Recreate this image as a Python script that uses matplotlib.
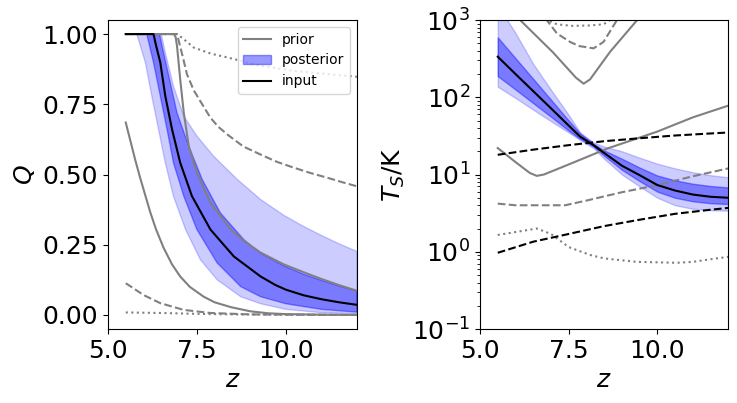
import numpy as np
import matplotlib
matplotlib.use('Agg')
import matplotlib.pyplot as plt

# ---- left panel: Q(z) ----
# posterior bands (edges read separately)
z_q_ohi = [5.5, 6.5, 6.6, 6.84, 7.13, 7.5, 7.97, 8.64, 9.29, 9.94, 10.5, 11.0, 11.5, 12.0]
q_ohi = [1, 1, 0.94, 0.815, 0.708, 0.637, 0.565, 0.482, 0.411, 0.355, 0.315, 0.283, 0.253, 0.226]
z_q_olo = [5.5, 5.81, 6.05, 6.23, 6.42, 6.61, 6.84, 7.18, 7.6, 8.07, 8.73, 9.29, 10.0, 11.0, 12.0]
q_olo = [1, 1, 0.899, 0.78, 0.661, 0.542, 0.423, 0.304, 0.196, 0.125, 0.065, 0.04, 0.02, 0.008, 0.004]
z_q_ihi = [5.5, 6.45, 6.52, 6.73, 6.94, 7.27, 7.65, 8.16, 8.82, 9.29, 9.94, 10.5, 11.0, 11.5, 12.0]
q_ihi = [1, 1, 0.958, 0.839, 0.72, 0.601, 0.482, 0.363, 0.268, 0.22, 0.175, 0.145, 0.123, 0.103, 0.085]
z_q_ilo = [5.5, 6.09, 6.28, 6.47, 6.66, 6.84, 7.13, 7.5, 8.07, 8.73, 9.29, 10.0, 11.0, 12.0]
q_ilo = [1, 1, 0.899, 0.78, 0.661, 0.542, 0.423, 0.304, 0.185, 0.101, 0.065, 0.04, 0.02, 0.01]

z_q_in = [5.5, 6.28, 6.35, 6.47, 6.61, 6.8, 7.03, 7.36, 7.88, 8.54, 9.29, 9.7, 10.0, 10.5, 11.0, 11.5, 12.0]
q_in = [1, 1, 0.96, 0.899, 0.78, 0.661, 0.542, 0.423, 0.304, 0.208, 0.137, 0.107, 0.09, 0.07, 0.056, 0.045, 0.036]

z_q_p1 = [5.5, 5.62, 5.76, 5.9, 6.0, 6.19, 6.35, 6.56, 6.8, 7.03, 7.3, 7.69, 8.0, 8.45, 9.0, 9.5, 10.0, 11.0, 12.0]
q_p1 = [0.685, 0.625, 0.555, 0.49, 0.447, 0.365, 0.305, 0.24, 0.18, 0.137, 0.1, 0.065, 0.045, 0.028, 0.013, 0.006, 0.003, 0.001, 0.0]
z_q_p2 = [5.5, 6.85, 6.9, 6.94, 7.03, 7.13, 7.27, 7.5, 7.88, 8.45, 8.85, 9.29, 9.94, 10.5, 11.0, 11.5, 12.0]
q_p2 = [1, 1, 0.99, 0.958, 0.839, 0.72, 0.601, 0.506, 0.399, 0.304, 0.26, 0.222, 0.18, 0.152, 0.128, 0.106, 0.086]
z_q_p3 = [5.5, 6.94, 7.1, 7.41, 7.9, 8.35, 9.29, 10.23, 11.2, 12.0]
q_p3 = [1, 1, 0.985, 0.952, 0.93, 0.917, 0.887, 0.869, 0.857, 0.848]
z_q_p4 = [5.5, 6.94, 7.0, 7.1, 7.22, 7.41, 7.6, 7.88, 8.1, 8.35, 8.8, 9.29, 9.75, 10.23, 10.7, 11.18, 11.6, 12.0]
q_p4 = [1, 1, 0.97, 0.92, 0.857, 0.80, 0.76, 0.702, 0.67, 0.643, 0.60, 0.571, 0.545, 0.524, 0.505, 0.488, 0.472, 0.458]
z_q_p5 = [5.5, 6.0, 6.47, 7.13, 7.88, 9.0, 10.0, 12.0]
q_p5 = [0.113, 0.071, 0.042, 0.018, 0.007, 0.002, 0.001, 0.0]
z_q_p6 = [5.5, 6.5, 7.5, 8.5, 10.0, 12.0]
q_p6 = [0.009, 0.007, 0.004, 0.002, 0.001, 0.0]

# ---- right panel: T_S(z) ----
z_t_band = [5.5, 6.0, 6.5, 7.0, 7.5, 7.82, 8.2, 8.5, 9.0, 9.5, 10.0, 10.5, 11.0, 11.5, 12.0]
t_outer_hi = [1550, 680, 270, 125, 59, 35, 26, 23, 20, 16.5, 13.8, 12, 10.7, 9.8, 9.2]
t_outer_lo = [137, 98, 69, 49, 35, 28, 22, 16, 10, 7.0, 5.0, 4.0, 3.6, 3.45, 3.4]
t_inner_hi = [596, 321, 173, 93, 50, 34, 25, 20.5, 16, 12.3, 9.7, 8.4, 7.6, 7.1, 6.8]
t_inner_lo = [188, 126, 84, 56, 37, 29, 23, 17.5, 11.5, 8.2, 6.0, 5.0, 4.5, 4.25, 4.15]
t_in = [335, 200, 120, 72, 43, 31, 24, 19, 13, 9.8, 7.3, 6.2, 5.5, 5.15, 5.0]

z_t_p1 = [5.5, 6.13, 7.06, 7.7, 7.92, 8.1, 8.67, 9.43, 10.0]
t_p1 = [4000, 1000, 380, 180, 150, 170, 390, 1000, 2500]
z_t_p2 = [5.5, 6.0, 6.4, 6.6, 6.8, 7.5, 8.6, 10.0, 11.0, 12.0]
t_p2 = [22, 14.5, 10.5, 9.6, 10, 13.5, 21.8, 36, 55, 78]
z_t_p3 = [6.5, 6.88, 7.17, 7.54, 7.8, 8.2, 8.48, 8.86, 9.2]
t_p3 = [2000, 1000, 670, 520, 460, 430, 520, 1000, 2000]
z_t_p4 = [6.6, 6.88, 7.17, 7.6, 8.1, 8.48, 8.67, 9.0]
t_p4 = [1300, 1000, 880, 840, 850, 880, 1000, 1300]
z_t_p5 = [5.5, 6.0, 6.5, 7.0, 7.4, 8.0, 9.0, 10.0, 11.0, 12.0]
t_p5 = [4.2, 4.0, 4.0, 4.0, 4.0, 4.6, 5.9, 7.3, 9.5, 12]
z_t_p6 = [5.5, 6.0, 6.6, 7.0, 7.5, 8.1, 8.5, 9.42, 10.0, 10.55, 11.0, 11.5, 12.0]
t_p6 = [1.65, 1.8, 2.0, 1.7, 1.15, 0.91, 0.82, 0.74, 0.73, 0.72, 0.74, 0.8, 0.86]

z_t_d = [5.5, 6.5, 7.5, 8.5, 9.5, 10.5, 11.5, 12.0]
t_d_hi = [18, 21, 24, 27, 29.5, 32, 34, 35]
t_d_lo = [0.97, 1.35, 1.7, 2.15, 2.6, 3.1, 3.5, 3.7]

matplotlib.rcParams['font.size'] = 18

fig = plt.figure(figsize=(7.37, 4.03), dpi=100)
ax1 = fig.add_axes([0.1465, 0.1836, 0.338, 0.7667])
ax2 = fig.add_axes([0.6513, 0.1836, 0.337, 0.7667])

# 왼쪽 그래프: 띠는 위쪽 경계 + 뒤집은 아래쪽 경계로 다각형
ax1.fill(z_q_ohi + z_q_olo[::-1], q_ohi + q_olo[::-1], color='blue', alpha=0.2)
post = ax1.fill(z_q_ihi + z_q_ilo[::-1], q_ihi + q_ilo[::-1], color='blue', alpha=0.4, label='posterior')[0]
prior, = ax1.plot(z_q_p1, q_p1, color='gray', lw=1.5, label='prior')
ax1.plot(z_q_p2, q_p2, color='gray', lw=1.5)
ax1.plot(z_q_p3, q_p3, color='gray', lw=1.5, ls=':')
ax1.plot(z_q_p4, q_p4, color='gray', lw=1.5, ls='--')
ax1.plot(z_q_p5, q_p5, color='gray', lw=1.5, ls='--')
ax1.plot(z_q_p6, q_p6, color='gray', lw=1.5, ls=':')
inp, = ax1.plot(z_q_in, q_in, color='black', lw=1.5, label='input')
ax1.set_xlim(5, 12)
ax1.set_ylim(-0.05, 1.05)
ax1.set_xticks([5.0, 7.5, 10.0])
ax1.set_yticks([0.0, 0.25, 0.5, 0.75, 1.0])
ax1.set_xlabel('$z$')
ax1.set_ylabel('$Q$')
ax1.legend(handles=[prior, post, inp], loc='upper right', fontsize=10)

# 오른쪽 그래프
ax2.fill_between(z_t_band, t_outer_lo, t_outer_hi, color='blue', alpha=0.2)
ax2.fill_between(z_t_band, t_inner_lo, t_inner_hi, color='blue', alpha=0.4)
ax2.plot(z_t_p1, t_p1, color='gray', lw=1.5)
ax2.plot(z_t_p2, t_p2, color='gray', lw=1.5)
ax2.plot(z_t_p3, t_p3, color='gray', lw=1.5, ls='--')
ax2.plot(z_t_p4, t_p4, color='gray', lw=1.5, ls=':')
ax2.plot(z_t_p5, t_p5, color='gray', lw=1.5, ls='--')
ax2.plot(z_t_p6, t_p6, color='gray', lw=1.5, ls=':')
ax2.plot(z_t_d, t_d_hi, color='black', lw=1.5, ls='--')
ax2.plot(z_t_d, t_d_lo, color='black', lw=1.5, ls='--')
ax2.plot(z_t_band, t_in, color='black', lw=1.5)
ax2.set_yscale('log')
ax2.set_xlim(5, 12)
ax2.set_ylim(0.1, 1000)
ax2.set_xticks([5.0, 7.5, 10.0])
ax2.set_xlabel('$z$')
ax2.set_ylabel('$T_S$/K')

fig.savefig('out.png', dpi=100)
